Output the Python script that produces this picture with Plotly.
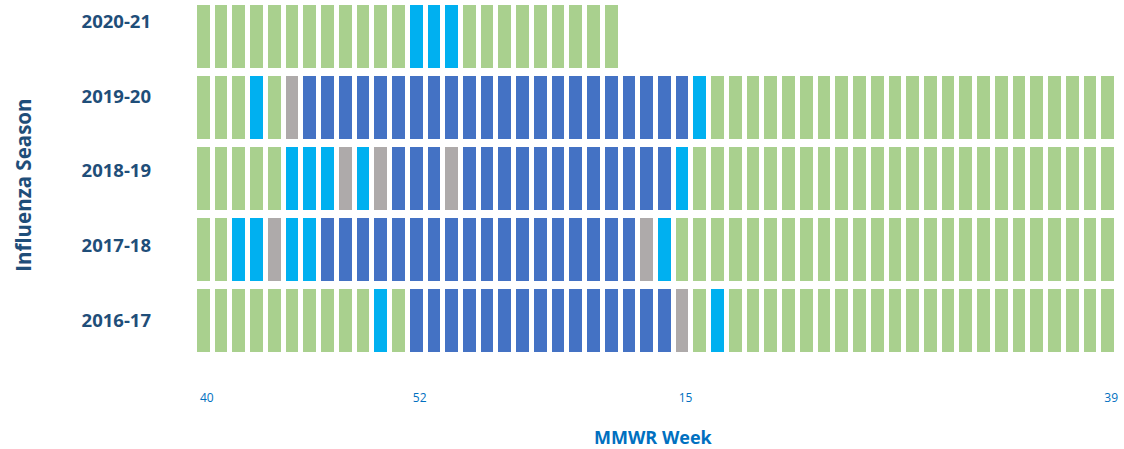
import plotly.graph_objects as go

# MMWR week columns (season runs week 40 -> week 39)
weeks = ["40", "41", "42", "43", "44", "45", "46", "47", "48", "49", "50", "51", "52",
         "1", "2", "3", "4", "5", "6", "7", "8", "9", "10", "11", "12", "13", "14", "15",
         "16", "17", "18", "19", "20", "21", "22", "23", "24", "25", "26", "27", "28",
         "29", "30", "31", "32", "33", "34", "35", "36", "37", "38", "39"]
tick_weeks = ["40", "52", "15", "39"]

seasons = ["2016-17", "2017-18", "2018-19", "2019-20", "2020-21"]

# Weekly status codes: G = green, C = light blue, B = dark blue, X = grey
status_2016_17 = "GGGGGGGGGGCGBBBBBBBBBBBBBBBXGCGGGGGGGGGGGGGGGGGGGGGG"
status_2017_18 = "GGCCXCCBBBBBBBBBBBBBBBBBBXCGGGGGGGGGGGGGGGGGGGGGGGGG"
status_2018_19 = "GGGGGCCCXCXBBBXBBBBBBBBBBBBCGGGGGGGGGGGGGGGGGGGGGGGG"
status_2019_20 = "GGGCGXBBBBBBBBBBBBBBBBBBBBBBCGGGGGGGGGGGGGGGGGGGGGGG"
status_2020_21 = "GGGGGGGGGGGGCCCGGGGGGGGG"

status_rows = [status_2016_17, status_2017_18, status_2018_19, status_2019_20, status_2020_21]

code = {"G": 0, "C": 1, "B": 2, "X": 3}
colors = ["#A9D08E", "#00B0F0", "#4472C4", "#AEAAAA"]

z = []
for s in status_rows:
    row = [code[c] for c in s]
    row += [None] * (len(weeks) - len(row))
    z.append(row)

colorscale = [
    [0.0, colors[0]], [0.25, colors[0]],
    [0.25, colors[1]], [0.5, colors[1]],
    [0.5, colors[2]], [0.75, colors[2]],
    [0.75, colors[3]], [1.0, colors[3]],
]

fig = go.Figure()
fig.add_trace(go.Heatmap(
    z=z, x=weeks, y=list(range(len(seasons))),
    zmin=0, zmax=3, colorscale=colorscale, showscale=False,
    xgap=5, ygap=8, hoverinfo="skip",
))
# invisible helper trace carrying the season labels axis
fig.add_trace(go.Scatter(
    x=[weeks[0]] * len(seasons), y=list(range(len(seasons))), yaxis="y2",
    mode="markers", marker=dict(opacity=0), hoverinfo="skip", showlegend=False,
))

navy = "#1F4E79"
blue = "#0070C0"

fig.update_layout(
    width=1124, height=449,
    margin=dict(l=195, r=7, t=1, b=93),
    paper_bgcolor="white", plot_bgcolor="white",
    font=dict(family="Open Sans, sans-serif"),
    xaxis=dict(
        type="category", categoryorder="array", categoryarray=weeks,
        range=[-0.5, len(weeks) - 0.5],
        tickmode="array", tickvals=tick_weeks, ticktext=tick_weeks,
        showgrid=False, zeroline=False, showline=False, ticks="",
        tickfont=dict(size=12, color=blue), ticklabelstandoff=33, ticklabelshift=3,
    ),
    yaxis=dict(
        range=[-0.5, len(seasons) - 0.5], showticklabels=False,
        showgrid=False, zeroline=False, showline=False, ticks="",
    ),
    yaxis2=dict(
        overlaying="y", side="left", range=[-0.483, 4.282],
        tickmode="array", tickvals=list(range(len(seasons))), ticktext=seasons,
        showgrid=False, zeroline=False, showline=False, ticks="",
        tickfont=dict(size=18.5, color=navy, weight="bold"), ticklabelstandoff=43,
    ),
    annotations=[
        dict(text="MMWR Week", xref="paper", yref="paper", x=0.4973, y=-0.2282,
             xanchor="center", yanchor="middle", showarrow=False,
             font=dict(size=18, color=blue, weight="bold")),
        dict(text="Influenza Season", xref="paper", yref="paper", x=-0.1866, y=0.482,
             xanchor="center", yanchor="middle", textangle=-90, showarrow=False,
             font=dict(size=20.5, color=navy, weight="bold")),
    ],
)

fig.write_html("out.html", config={"displayModeBar": False},
               post_script="document.body.style.margin='0';")
